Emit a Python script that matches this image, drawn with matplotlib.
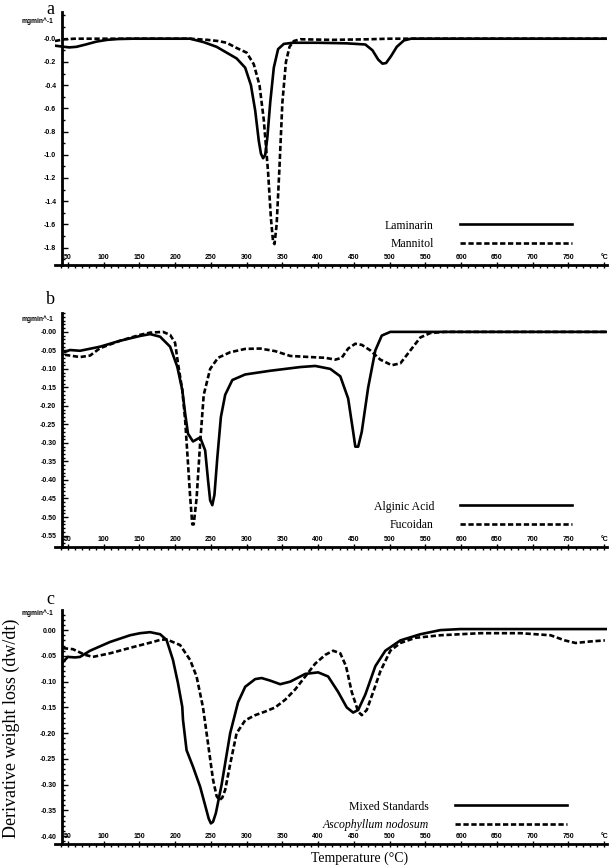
import matplotlib
matplotlib.use('Agg')
import matplotlib.pyplot as plt
from matplotlib.ticker import MultipleLocator, FixedLocator, FixedFormatter

# ---- data (temperature in °C, derivative weight loss) ----
# panel a
lam_t = [32, 42, 52, 62, 75, 90, 105, 120, 140, 200, 221, 240, 258, 272, 286, 298, 306,
         312, 317, 320, 323, 326, 329, 333, 338, 344, 352, 365, 400, 440, 466, 476, 484,
         490, 495, 502, 510, 520, 530, 804]
lam_v = [-0.06, -0.068, -0.075, -0.07, -0.05, -0.025, -0.01, -0.003, 0.0, 0.0, 0.0, -0.03,
         -0.07, -0.12, -0.17, -0.25, -0.4, -0.62, -0.88, -0.99, -1.03, -1.0, -0.85, -0.55,
         -0.25, -0.09, -0.045, -0.035, -0.035, -0.04, -0.05, -0.1, -0.18, -0.215, -0.21,
         -0.15, -0.07, -0.015, 0.0, 0.0]
man_t = [32, 45, 60, 221, 245, 260, 272, 286, 300, 310, 318, 324, 330, 334, 337, 339, 342,
         346, 350, 355, 360, 366, 375, 420, 470, 500, 804]
man_v = [-0.02, -0.005, 0.0, 0.0, -0.01, -0.02, -0.035, -0.08, -0.12, -0.22, -0.4, -0.7,
         -1.15, -1.55, -1.75, -1.77, -1.6, -1.1, -0.55, -0.2, -0.07, -0.02, -0.005, -0.01,
         -0.005, 0.0, 0.0]

# panel b
alg_t = [46, 53, 67, 95, 123, 151, 165, 179, 193, 203, 210, 214, 218, 225, 235, 242, 246,
         249, 252, 255, 259, 264, 270, 280, 298, 333, 375, 396, 417, 431, 442, 449, 452,
         456, 461, 470, 480, 489, 501, 804]
alg_v = [-0.054, -0.049, -0.051, -0.04, -0.024, -0.011, -0.006, -0.013, -0.04, -0.094,
         -0.157, -0.22, -0.275, -0.296, -0.285, -0.32, -0.4, -0.455, -0.468, -0.44, -0.34,
         -0.23, -0.17, -0.13, -0.115, -0.105, -0.095, -0.092, -0.1, -0.12, -0.18, -0.27,
         -0.31, -0.31, -0.27, -0.15, -0.05, -0.01, 0.0, 0.0]
fuc_t = [46, 67, 81, 95, 123, 151, 165, 183, 193, 200, 204, 210, 214, 218, 221, 224, 226,
         230, 235, 240, 249, 260, 277, 298, 319, 340, 361, 389, 410, 424, 433, 442, 452,
         461, 473, 487, 503, 515, 529, 543, 557, 578, 804]
fuc_v = [-0.062, -0.068, -0.064, -0.044, -0.024, -0.008, -0.002, 0.0, -0.008, -0.03,
         -0.085, -0.157, -0.238, -0.355, -0.445, -0.52, -0.52, -0.45, -0.3, -0.17, -0.1,
         -0.07, -0.055, -0.046, -0.045, -0.052, -0.065, -0.068, -0.07, -0.075, -0.07,
         -0.045, -0.032, -0.035, -0.05, -0.075, -0.09, -0.085, -0.05, -0.015, -0.003, 0.0,
         0.0]

# panel c
mix_t = [43, 50, 60, 67, 81, 109, 137, 151, 165, 179, 188, 197, 204, 210, 211, 216, 225,
         235, 242, 247, 250, 253, 257, 265, 277, 288, 298, 312, 321, 333, 347, 361, 382,
         400, 414, 428, 440, 449, 456, 466, 480, 494, 515, 543, 571, 599, 804]
mix_v = [-0.062, -0.052, -0.053, -0.052, -0.04, -0.023, -0.01, -0.006, -0.004, -0.008,
         -0.019, -0.058, -0.103, -0.149, -0.174, -0.233, -0.265, -0.304, -0.34, -0.366,
         -0.375, -0.372, -0.355, -0.3, -0.2, -0.14, -0.11, -0.095, -0.093, -0.098, -0.105,
         -0.1, -0.085, -0.082, -0.09, -0.12, -0.15, -0.16, -0.155, -0.125, -0.07, -0.04,
         -0.02, -0.008, 0.0, 0.002, 0.002]
asc_t = [43, 57, 74, 85, 109, 141, 169, 179, 188, 207, 221, 230, 239, 246, 253, 258, 262,
         266, 270, 277, 286, 298, 312, 326, 340, 354, 368, 382, 396, 410, 421, 431, 439,
         447, 456, 461, 468, 477, 487, 501, 515, 536, 571, 627, 683, 725, 745, 760, 781,
         801]
asc_v = [-0.035, -0.037, -0.048, -0.052, -0.045, -0.033, -0.023, -0.019, -0.018, -0.029,
         -0.058, -0.09, -0.15, -0.22, -0.29, -0.322, -0.33, -0.325, -0.31, -0.26, -0.2,
         -0.175, -0.165, -0.158, -0.15, -0.135, -0.115, -0.09, -0.065, -0.048, -0.04,
         -0.045, -0.07, -0.12, -0.158, -0.165, -0.155, -0.12, -0.08, -0.04, -0.025, -0.015,
         -0.01, -0.006, -0.006, -0.01, -0.02, -0.025, -0.022, -0.02]

x_ticks = [50, 100, 150, 200, 250, 300, 350, 400, 450, 500, 550, 600, 650, 700, 750, 800]
x_labels = ['50', '100', '150', '200', '250', '300', '350', '400', '450', '500', '550',
            '600', '650', '700', '750', '°C']

ya_ticks = [0.0, -0.2, -0.4, -0.6, -0.8, -1.0, -1.2, -1.4, -1.6, -1.8]
ya_labels = ['-0.0', '-0.2', '-0.4', '-0.6', '-0.8', '-1.0', '-1.2', '-1.4', '-1.6', '-1.8']
yb_ticks = [0.0, -0.05, -0.10, -0.15, -0.20, -0.25, -0.30, -0.35, -0.40, -0.45, -0.50, -0.55]
yb_labels = ['-0.00', '-0.05', '-0.10', '-0.15', '-0.20', '-0.25', '-0.30', '-0.35',
             '-0.40', '-0.45', '-0.50', '-0.55']
yc_ticks = [0.0, -0.05, -0.10, -0.15, -0.20, -0.25, -0.30, -0.35, -0.40]
yc_labels = ['0.00', '-0.05', '-0.10', '-0.15', '-0.20', '-0.25', '-0.30', '-0.35', '-0.40']

SANS = 'Liberation Sans'
SERIF = 'Liberation Serif'
W, H = 609, 867
DASH = (0, (2, 1))

fig = plt.figure(figsize=(W / 100, H / 100), dpi=100)


def make_axes(top, bottom):
    # pixel box -> figure fraction
    return fig.add_axes([55 / W, 1 - bottom / H, (607 - 55) / W, (bottom - top) / H])


def style_axis(ax, ylim, yticks, ylabels, yminor):
    ax.set_xlim(32, 804)
    ax.set_ylim(*ylim)
    ax.spines['top'].set_visible(False)
    ax.spines['right'].set_visible(False)
    ax.spines['left'].set_position(('data', 41.6))
    ax.spines['left'].set_linewidth(2.0)
    ax.spines['bottom'].set_linewidth(2.0)
    ax.xaxis.set_major_locator(FixedLocator(x_ticks))
    ax.xaxis.set_major_formatter(FixedFormatter(x_labels))
    ax.xaxis.set_minor_locator(MultipleLocator(10))
    ax.tick_params(axis='x', which='major', direction='inout', length=4, width=1,
                   pad=-10, labelsize=5)
    ax.tick_params(axis='x', which='minor', direction='out', length=2, width=1)
    ax.yaxis.set_major_locator(FixedLocator(yticks))
    ax.yaxis.set_major_formatter(FixedFormatter(ylabels))
    ax.yaxis.set_minor_locator(MultipleLocator(yminor))
    ax.tick_params(axis='y', which='major', direction='in', length=4, width=1,
                   pad=4, labelsize=5)
    ax.tick_params(axis='y', which='minor', direction='in', length=2.5, width=1)
    for lab in ax.get_xticklabels() + ax.get_yticklabels():
        lab.set_family(SANS)
        lab.set_weight('bold')


def add_legend(ax, right_px, bottom_px):
    leg = ax.legend(loc='lower right', bbox_to_anchor=(right_px / W, 1 - bottom_px / H),
                    bbox_transform=fig.transFigure, markerfirst=False, frameon=False,
                    handlelength=9.5, handletextpad=2.2, labelspacing=0.55,
                    borderpad=0, borderaxespad=0,
                    prop={'family': SERIF, 'size': 8.5})
    return leg


# ---- panel a ----
ax1 = make_axes(12, 265)
ax1.plot(lam_t, lam_v, color='black', lw=1.9, label='Laminarin')
ax1.plot(man_t, man_v, color='black', lw=1.9, ls=DASH, label='Mannitol')
style_axis(ax1, (-1.95, 0.23), ya_ticks, ya_labels, 0.1)
add_legend(ax1, 572, 250)

# ---- panel b ----
ax2 = make_axes(313, 547)
ax2.plot(alg_t, alg_v, color='black', lw=1.9, label='Alginic Acid')
ax2.plot(fuc_t, fuc_v, color='black', lw=1.9, ls=DASH, label='Fucoidan')
style_axis(ax2, (-0.581, 0.051), yb_ticks, yb_labels, 0.01)
add_legend(ax2, 572, 531)

# ---- panel c ----
ax3 = make_axes(610, 844)
ax3.plot(mix_t, mix_v, color='black', lw=1.9, label='Mixed Standards')
ax3.plot(asc_t, asc_v, color='black', lw=1.9, ls=DASH, label='Ascophyllum nodosum')
style_axis(ax3, (-0.415, 0.039), yc_ticks, yc_labels, 0.01)
leg3 = add_legend(ax3, 567, 831)
leg3.get_texts()[1].set_style('italic')

# unit labels and panel letters
for y_px in [21, 319, 613]:
    fig.text(37 / W, 1 - y_px / H, 'mgmin^-1', ha='center', va='center',
             family=SANS, weight='bold', size=4.8)
for letter, y_px in [('a', 10), ('b', 300), ('c', 600)]:
    fig.text(50 / W, 1 - y_px / H, letter, ha='center', va='center',
             family=SERIF, size=13)

fig.text(360 / W, 1 - 858 / H, 'Temperature (°C)', ha='center', va='center',
         family=SERIF, size=10)
fig.text(11 / W, 1 - 728 / H, 'Derivative weight loss (dw/dt)', ha='center', va='center',
         rotation=90, family=SERIF, size=13)

fig.savefig('out.png', dpi=100)
